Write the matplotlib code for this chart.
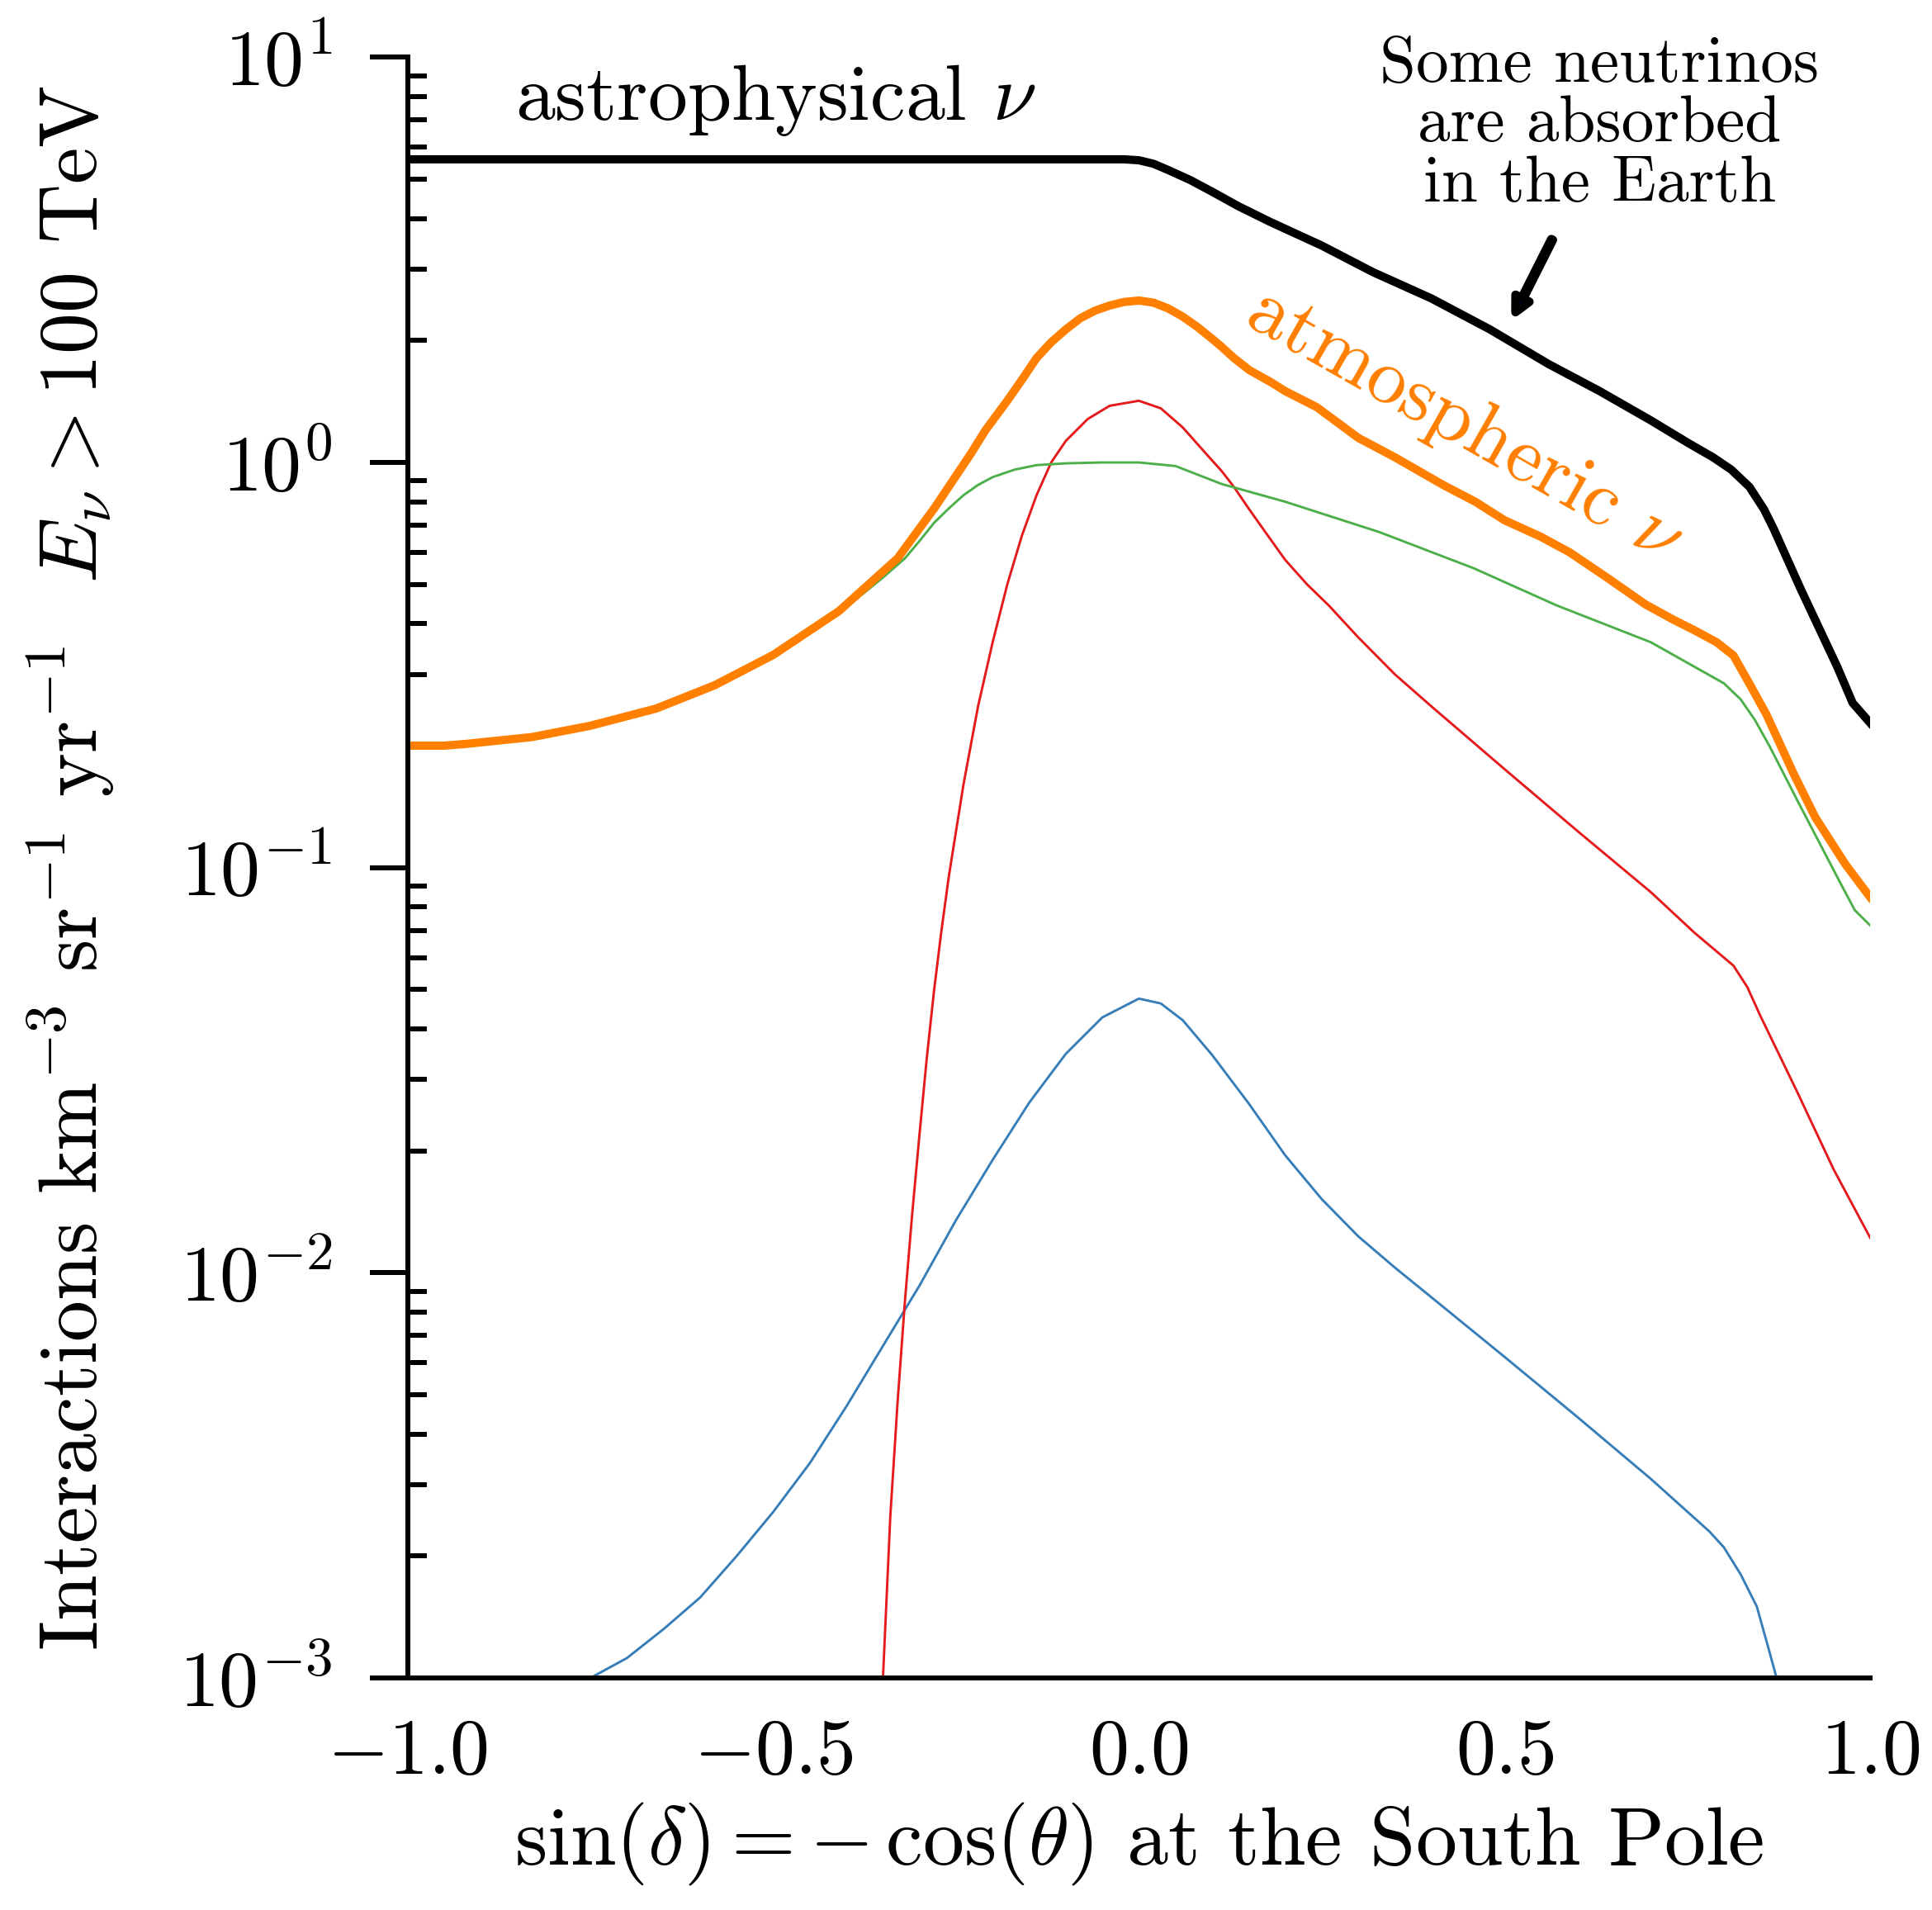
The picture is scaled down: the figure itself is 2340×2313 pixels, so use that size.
import matplotlib
matplotlib.use("Agg")
import matplotlib.pyplot as plt

plt.rcParams['font.family'] = 'serif'
plt.rcParams['font.serif'] = ['cmr10']
plt.rcParams['mathtext.fontset'] = 'cm'
plt.rcParams['axes.formatter.use_mathtext'] = True

# astrophysical neutrinos (black)
astro_x = [-1.0, -0.5, -0.05, -0.02, 0.0, 0.02, 0.04, 0.07, 0.10, 0.136, 0.18, 0.25,
           0.32, 0.40, 0.48, 0.56, 0.63, 0.70, 0.75, 0.785, 0.81, 0.835, 0.855,
           0.868, 0.905, 0.955, 0.976, 1.0]
astro_y = [5.6, 5.6, 5.6, 5.6, 5.57, 5.46, 5.27, 4.98, 4.66, 4.29, 3.92, 3.43,
           2.95, 2.54, 2.13, 1.75, 1.50, 1.27, 1.12, 1.03, 0.96, 0.87, 0.765,
           0.686, 0.487, 0.313, 0.255, 0.2275]

# total atmospheric (orange)
atm_x = [-1.0, -0.95, -0.92, -0.83, -0.75, -0.66, -0.58, -0.50, -0.41, -0.33,
         -0.28, -0.23, -0.21, -0.18, -0.16, -0.14, -0.12, -0.10, -0.08, -0.06,
         -0.04, -0.02, 0.0, 0.02, 0.04, 0.06, 0.08, 0.10, 0.113, 0.13, 0.151,
         0.18, 0.2, 0.243, 0.3, 0.35, 0.416, 0.46, 0.5, 0.55, 0.589, 0.64, 0.693,
         0.73, 0.76, 0.79, 0.813, 0.837, 0.858, 0.895, 0.925, 0.966, 0.985, 1.0]
atm_y = [0.2, 0.2, 0.202, 0.21, 0.224, 0.247, 0.282, 0.335, 0.43, 0.58,
         0.77, 1.05, 1.2, 1.42, 1.6, 1.81, 1.98, 2.13, 2.27, 2.37,
         2.44, 2.49, 2.51, 2.48, 2.40, 2.29, 2.16, 2.02, 1.93, 1.81, 1.69,
         1.58, 1.50, 1.37, 1.15, 1.03, 0.88, 0.80, 0.72, 0.655, 0.60, 0.52, 0.446,
         0.41, 0.385, 0.36, 0.334, 0.280, 0.239, 0.171, 0.133, 0.102, 0.0918, 0.0845]

# conventional component (green)
conv_x = [-1.0, -0.83, -0.66, -0.5, -0.41, -0.35, -0.32, -0.30, -0.28, -0.26,
          -0.24, -0.22, -0.2, -0.17, -0.14, -0.1, -0.05, 0.0, 0.05, 0.113, 0.2,
          0.329, 0.458, 0.571, 0.7, 0.8, 0.823, 0.842, 0.862, 0.903, 0.959,
          0.979, 1.0]
conv_y = [0.199, 0.209, 0.245, 0.332, 0.425, 0.52, 0.58, 0.64, 0.71, 0.77,
          0.83, 0.88, 0.92, 0.96, 0.985, 0.995, 1.0, 1.0, 0.98, 0.885, 0.80,
          0.673, 0.548, 0.444, 0.36, 0.285, 0.260, 0.232, 0.20, 0.1435, 0.0918,
          0.0785, 0.072]

# prompt component (red)
prompt_x = [-0.35, -0.34, -0.33, -0.32, -0.31, -0.30, -0.29, -0.28, -0.27, -0.26,
            -0.24, -0.22, -0.20, -0.18, -0.16, -0.14, -0.12, -0.10, -0.07, -0.04,
            0.0, 0.03, 0.06, 0.09, 0.113, 0.13, 0.15, 0.175, 0.2, 0.23, 0.26, 0.3,
            0.35, 0.4, 0.5, 0.6, 0.7, 0.76, 0.813, 0.832, 0.85, 0.9, 0.95, 1.0]
prompt_y = [0.001, 0.0025, 0.0048, 0.0085, 0.014, 0.022, 0.034, 0.05, 0.07, 0.095,
            0.16, 0.25, 0.36, 0.50, 0.66, 0.83, 1.0, 1.13, 1.28, 1.38,
            1.42, 1.36, 1.22, 1.06, 0.953, 0.87, 0.77, 0.665, 0.575, 0.50, 0.443, 0.37,
            0.30, 0.25, 0.175, 0.123, 0.087, 0.069, 0.0573, 0.0507, 0.043, 0.028,
            0.018, 0.0122]

# third component (blue)
other_x = [-0.75, -0.7, -0.65, -0.6, -0.55, -0.5, -0.45, -0.4, -0.35, -0.3, -0.25,
           -0.2, -0.15, -0.1, -0.05, 0.0, 0.03, 0.06, 0.1, 0.15, 0.2, 0.25, 0.3,
           0.35, 0.4, 0.5, 0.6, 0.7, 0.78, 0.80, 0.823, 0.845, 0.86, 0.872]
other_y = [0.001, 0.00112, 0.00132, 0.00158, 0.0020, 0.00257, 0.00339, 0.00468,
           0.0066, 0.0093, 0.0135, 0.019, 0.0263, 0.0347, 0.0427, 0.0475, 0.0462,
           0.042, 0.0345, 0.0262, 0.0195, 0.0152, 0.0123, 0.0103, 0.0087, 0.0062,
           0.0044, 0.0031, 0.0023, 0.0021, 0.0018, 0.0015, 0.0012, 0.001]

fig = plt.figure(figsize=(7.8, 7.71), dpi=300)
ax = fig.add_axes([0.211, 0.1215, 0.757, 0.8485])

ax.plot(other_x, other_y, color='#377eb8', lw=0.7)
ax.plot(prompt_x, prompt_y, color='#e41a1c', lw=0.7)
ax.plot(conv_x, conv_y, color='#4daf4a', lw=0.7)
ax.plot(atm_x, atm_y, color='#ff7f00', lw=2.4)
ax.plot(astro_x, astro_y, color='black', lw=2.4)

ax.set_yscale('log')
ax.set_xlim(-1, 1)
ax.set_ylim(1e-3, 10)
ax.set_xticks([-1.0, -0.5, 0.0, 0.5, 1.0])

for s in ['top', 'right']:
    ax.spines[s].set_visible(False)
for s in ['left', 'bottom']:
    ax.spines[s].set_linewidth(1.44)

ax.tick_params(axis='y', which='major', direction='out', length=11, width=1.44,
               labelsize=23, pad=11)
ax.tick_params(axis='y', which='minor', direction='in', length=5.5, width=1.44)
ax.tick_params(axis='x', which='both', length=0, labelsize=23, pad=12)

ax.set_xlabel(r'$\sin(\delta) = -\,\cos(\theta)$ at the South Pole', fontsize=24,
              labelpad=3)
ax.set_ylabel(r'Interactions km$^{-3}$ sr$^{-1}$ yr$^{-1}$  $E_\nu > 100$ TeV',
              fontsize=24, labelpad=18)

ax.text(-0.853, 7.0, r'astrophysical $\nu$', fontsize=23, ha='left', va='baseline')
ax.text(0.444, 1.23, r'atmospheric $\nu$', fontsize=23, color='#ff7f00',
        rotation=-29.6, rotation_mode='anchor', ha='center', va='center')

ax.text(0.63, 6.8, 'Some neutrinos\nare absorbed\nin the Earth', fontsize=19,
        ha='center', va='center', multialignment='center', linespacing=1.02)
ax.annotate('', xy=(0.515, 2.35), xytext=(0.565, 3.55),
            arrowprops=dict(facecolor='blue', edgecolor='black', linewidth=2.5,
                            width=0.5, headwidth=4.5, headlength=4.5, shrink=0))

fig.savefig('out.png', dpi=300)
